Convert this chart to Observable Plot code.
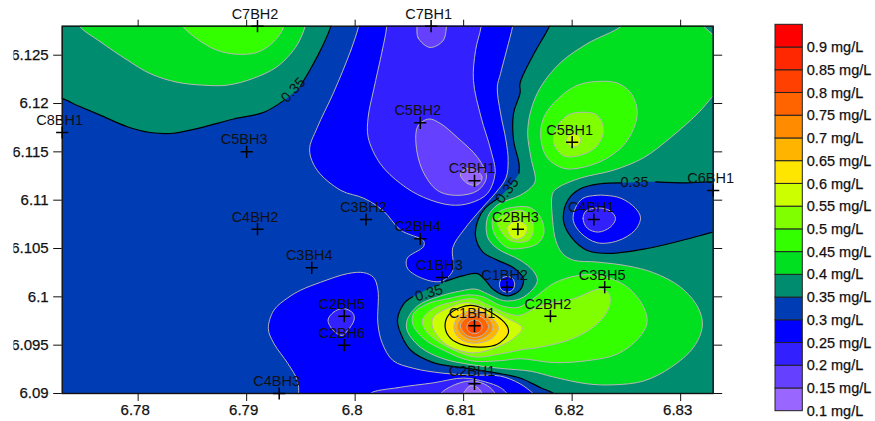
<!DOCTYPE html>
<html>
<head>
<meta charset="utf-8">
<script src="https://cdn.jsdelivr.net/npm/d3@7"></script>
<script src="https://cdn.jsdelivr.net/npm/@observablehq/plot@0.6"></script>
<style>
html,body{margin:0;padding:0;background:#fff}
#page{position:relative;width:875px;height:421px;overflow:hidden}
#page svg{position:absolute;left:0;top:0}
#page g[aria-label$="tick label"] text{stroke:#111;stroke-width:.25px}
</style>
</head>
<body>
<div id="page"></div>
<script>
// Legend classes (lower bound of each class, mg/L) and their colours
const levels = [0.1,0.15,0.2,0.25,0.3,0.35,0.4,0.45,0.5,0.55,0.6,0.65,0.7,0.75,0.8,0.85,0.9];
const levelColors = ["#9966ff","#6640ff","#3320ff","#0000ff","#003cb4","#008c6e","#00e020","#33ff00","#80ff00","#ccff00","#ffe600","#ffb400","#ff8c00","#ff6400","#ff4000","#ff2800","#ff0000"];
const xTicks = [6.78,6.79,6.8,6.81,6.82,6.83];
const yTicks = [6.09,6.095,6.1,6.105,6.11,6.115,6.12,6.125];

// Boreholes
const stationNames = ["C7BH2","C7BH1","C8BH1","C5BH3","C5BH2","C3BH1","C5BH1","C6BH1","C4BH1","C2BH3","C4BH2","C3BH2","C2BH4","C3BH4","C1BH3","C1BH2","C3BH5","C2BH2","C2BH5","C2BH6","C1BH1","C2BH1","C4BH3"];
const stationX = [6.791,6.807,6.773,6.79,6.806,6.811,6.82,6.833,6.822,6.815,6.791,6.801,6.806,6.796,6.808,6.814,6.823,6.818,6.799,6.799,6.811,6.811,6.793];
const stationY = [6.128,6.128,6.117,6.115,6.118,6.112,6.116,6.111,6.108,6.107,6.107,6.108,6.106,6.103,6.102,6.101,6.101,6.098,6.098,6.095,6.097,6.091,6.09];

// Contour outlines, as x,y (longitude, latitude) pairs; null,null = gap for a label
const topLeft35 = [6.7719,6.1206,6.7730,6.1205,6.7744,6.1198,6.7765,6.1188,6.7790,6.1176,6.7811,6.1170,6.7830,6.1169,6.7854,6.1174,6.7888,6.1184,6.7916,6.1191,6.7934,6.1203,null,null,6.7950,6.1219,6.7959,6.1236,6.7968,6.1255,6.7977,6.1278,6.7980,6.1296,6.7719,6.1296];
const topLeft40 = [6.7746,6.1280,6.7765,6.1264,6.7790,6.1245,6.7811,6.1231,6.7836,6.1222,6.7860,6.1219,6.7882,6.1219,6.7906,6.1226,6.7928,6.1238,6.7943,6.1255,6.7950,6.1268,6.7954,6.1280,6.7957,6.1291,6.7742,6.1291];
const topLeft45 = [6.7841,6.1280,6.7858,6.1264,6.7873,6.1255,6.7891,6.1251,6.7910,6.1253,6.7925,6.1264,6.7934,6.1279,6.7935,6.1291,6.7837,6.1291];
const middle30 = [6.8003,6.1279,6.7996,6.1255,6.7980,6.1211,6.7965,6.1175,6.7958,6.1152,6.7965,6.1131,6.7987,6.1110,6.8008,6.1102,6.8026,6.1089,6.8042,6.1069,6.8063,6.1058,6.8063,6.1052,6.8048,6.1040,6.8048,6.1030,6.8060,6.1020,6.8079,6.1016,6.8090,6.1027,6.8090,6.1051,6.8100,6.1069,6.8117,6.1092,6.8129,6.1107,6.8139,6.1123,6.8141,6.1141,6.8139,6.1162,6.8134,6.1190,6.8131,6.1217,6.8134,6.1231,6.8145,6.1279,6.8147,6.1291,6.8005,6.1291];
const bottom30 = [6.7948,6.08875,6.7948,6.0900,6.7947,6.0913,6.7938,6.0931,6.7925,6.0952,6.7920,6.0967,6.7925,6.0986,6.7938,6.0999,6.7950,6.1007,6.7968,6.1015,6.7993,6.1024,6.8008,6.1025,6.8017,6.1020,6.8021,6.1007,6.8021,6.0972,6.8025,6.0952,6.8035,6.0934,6.8054,6.0926,6.8081,6.0921,6.8106,6.0919,6.8134,6.0918,6.8152,6.0910,6.8164,6.0900,6.8172,6.0890];
const bottom25 = [6.8014,6.0900,6.8039,6.0906,6.8072,6.0911,6.8100,6.0916,6.8120,6.0912,6.8134,6.0906,6.8140,6.0900,6.8145,6.0891,6.8010,6.0891];
const bottom20 = [6.8079,6.0900,6.8094,6.0910,6.8109,6.0913,6.8122,6.0908,6.8129,6.0900,6.8132,6.0890,6.8076,6.0890];
const bottom15 = [6.8100,6.0900,6.8106,6.0908,6.8113,6.0906,6.8117,6.0900,6.8119,6.0890,6.8098,6.0890];
const middle25 = [6.8029,6.1279,6.8025,6.1255,6.8017,6.1214,6.8012,6.1186,6.8012,6.1165,6.8023,6.1138,6.8042,6.1117,6.8063,6.1103,6.8088,6.1095,6.8106,6.1097,6.8122,6.1107,6.8129,6.1128,6.8125,6.1152,6.8116,6.1186,6.8109,6.1224,6.8111,6.1255,6.8116,6.1279,6.8117,6.1291,6.8029,6.1291];
const c7bh1Lobe20 = [6.8057,6.1280,6.8058,6.1268,6.8069,6.1258,6.8081,6.1265,6.8084,6.1278,6.8084,6.1288,6.8057,6.1288];
const c5bh2Lobe20 = [6.8068,6.1184,6.8058,6.1177,6.8056,6.1159,6.8062,6.1131,6.8076,6.1110,6.8094,6.1105,6.8113,6.1110,6.8121,6.1124,6.8113,6.1144,6.8094,6.1165,6.8079,6.1179];
const c3bh1Lobe15 = [6.8097,6.1126,6.8100,6.1131,6.8108,6.1133,6.8117,6.1124,6.8113,6.1116,6.8104,6.1117];
const c2bh5Lobe25 = [6.7975,6.0976,6.7980,6.0984,6.7989,6.0988,6.7998,6.0983,6.7999,6.0976,6.7993,6.0965,6.7988,6.0960,6.7980,6.0965];
const c1bh2Pocket30 = [6.8133,6.1013,6.8135,6.1019,6.8140,6.1021,6.8145,6.1019,6.8147,6.1013,6.8145,6.1007,6.8140,6.1005,6.8135,6.1007];
const right35 = [6.8179,6.1280,6.8164,6.1250,6.8152,6.1221,6.8152,6.1211,6.8146,6.1190,6.8146,6.1162,6.8151,6.1138,6.8151,6.1128,null,null,6.8132,6.1102,6.8120,6.1092,6.8113,6.1079,6.8111,6.1062,6.8118,6.1046,6.8131,6.1038,6.8146,6.1030,6.8155,6.1019,6.8152,6.1007,6.8140,6.1001,6.8128,6.1007,6.8120,6.1017,6.8113,6.1024,6.8100,6.1022,6.8083,6.1016,null,null,6.8053,6.1000,6.8045,6.0993,6.8039,6.0976,6.8042,6.0962,6.8051,6.0945,6.8072,6.0932,6.8104,6.0926,6.8131,6.0921,6.8152,6.0916,6.8171,6.0906,6.8183,6.0900,6.8191,6.0891,6.8341,6.0891,6.8341,6.1291,6.8182,6.1291];
const c4bh1Lobe35 = [6.8341,6.1117,6.8330,6.1119,6.8306,6.1118,6.8277,6.1119,null,null,6.8245,6.1118,6.8226,6.1117,6.8208,6.1112,6.8196,6.1100,6.8192,6.1079,6.8199,6.1062,6.8214,6.1048,6.8235,6.1045,6.8269,6.1050,6.8300,6.1058,6.8330,6.1067,6.8341,6.1070];
const c4bh1Lobe30 = [6.8222,6.1105,6.8210,6.1102,6.8203,6.1092,6.8201,6.1079,6.8208,6.1066,6.8223,6.1056,6.8242,6.1058,6.8258,6.1069,6.8263,6.1082,6.8258,6.1092,6.8245,6.1102,6.8231,6.1105];
const c4bh1Lobe25 = [6.8213,6.1089,6.8210,6.1081,6.8214,6.1071,6.8224,6.1067,6.8235,6.1072,6.8240,6.1081,6.8235,6.1089,6.8224,6.1092];
const right40 = [6.8245,6.1280,6.8214,6.1262,6.8189,6.1242,6.8171,6.1217,6.8162,6.1193,6.8159,6.1169,6.8162,6.1144,6.8166,6.1120,6.8162,6.1113,6.8152,6.1105,6.8131,6.1095,6.8122,6.1082,6.8122,6.1062,6.8131,6.1050,6.8152,6.1038,6.8164,6.1027,6.8168,6.1017,6.8163,6.1007,6.8152,6.0998,6.8137,6.0996,6.8122,6.1003,6.8111,6.1008,6.8097,6.1006,6.8079,6.1001,6.8058,6.0991,6.8048,6.0976,6.8048,6.0965,6.8060,6.0948,6.8081,6.0936,6.8106,6.0930,6.8134,6.0926,6.8162,6.0923,6.8183,6.0917,6.8214,6.0910,6.8238,6.0909,6.8266,6.0913,6.8291,6.0927,6.8312,6.0948,6.8320,6.0970,6.8316,6.0989,6.8300,6.1010,6.8275,6.1025,6.8251,6.1032,6.8223,6.1036,6.8201,6.1038,6.8191,6.1045,6.8185,6.1058,6.8182,6.1079,6.8182,6.1107,6.8187,6.1113,6.8208,6.1123,6.8238,6.1131,6.8266,6.1144,6.8291,6.1165,6.8316,6.1190,6.8330,6.1208,6.8341,6.1221,6.8351,6.1245,6.8341,6.1258,6.8330,6.1271,6.8321,6.1280,6.8314,6.1288,6.8249,6.1288];
const c5bh1Lobe45 = [6.8226,6.1223,6.8205,6.1219,6.8187,6.1205,6.8174,6.1186,6.8171,6.1165,6.8177,6.1144,6.8192,6.1133,6.8210,6.1134,6.8233,6.1144,6.8251,6.1162,6.8260,6.1190,6.8254,6.1211,6.8242,6.1221];
const c5bh1Lobe50 = [6.8210,6.1191,6.8196,6.1188,6.8185,6.1174,6.8183,6.1159,6.8192,6.1146,6.8206,6.1146,6.8222,6.1155,6.8229,6.1172,6.8223,6.1188];
const c5bh1Lobe55 = [6.8195,6.1162,6.8197,6.1167,6.8201,6.1169,6.8206,6.1167,6.8208,6.1162,6.8206,6.1157,6.8201,6.1155,6.8197,6.1157];
const c2bh3Lobe45 = [6.8127,6.1082,6.8128,6.1066,6.8140,6.1051,6.8152,6.1050,6.8168,6.1055,6.8174,6.1066,6.8171,6.1082,6.8162,6.1092,6.8148,6.1093,6.8134,6.1089];
const c2bh3Lobe50 = [6.8131,6.1079,6.8134,6.1069,6.8143,6.1058,6.8159,6.1058,6.8164,6.1066,6.8163,6.1079,6.8155,6.1089,6.8143,6.1088];
const c2bh3Lobe55 = [6.8140,6.1072,6.8150,6.1079,6.8159,6.1072,6.8155,6.1062,6.8146,6.1060];
const c1bh1Lobe45 = [6.8053,6.0972,6.8054,6.0983,6.8067,6.0993,6.8085,6.0998,6.8104,6.1002,6.8118,6.1000,6.8134,6.0991,6.8150,6.0989,6.8164,6.0998,6.8183,6.1014,6.8205,6.1022,6.8226,6.1022,6.8251,6.1010,6.8266,6.0989,6.8269,6.0973,6.8261,6.0957,6.8242,6.0941,6.8214,6.0934,6.8183,6.0932,6.8152,6.0936,6.8134,6.0934,6.8106,6.0934,6.8081,6.0945,6.8063,6.0957];
const c1bh1Lobe50 = [6.8062,6.0976,6.8072,6.0988,6.8091,6.0995,6.8109,6.0998,6.8122,6.0992,6.8140,6.0983,6.8152,6.0981,6.8171,6.0991,6.8201,6.0998,6.8226,6.1008,6.8234,6.1003,6.8234,6.0989,6.8223,6.0972,6.8201,6.0957,6.8171,6.0948,6.8152,6.0945,6.8134,6.0941,6.8109,6.0938,6.8079,6.0952,6.8065,6.0965];
const c1bh1Lobe55 = [6.8071,6.0970,6.8072,6.0979,6.8085,6.0988,6.8102,6.0994,6.8122,6.0988,6.8140,6.0978,6.8154,6.0968,6.8146,6.0957,6.8131,6.0948,6.8109,6.0942,6.8088,6.0948,6.8077,6.0958];
const c1bh1Lobe60 = [6.8083,6.0968,6.8086,6.0981,6.8097,6.0989,6.8109,6.0991,6.8125,6.0984,6.8140,6.0970,6.8141,6.0962,6.8131,6.0951,6.8116,6.0948,6.8100,6.0950,6.8088,6.0957];
const c1bh1Lobe65 = [6.8091,6.0968,6.8096,6.0981,6.8109,6.0986,6.8123,6.0981,6.8132,6.0968,6.8126,6.0957,6.8110,6.0952,6.8096,6.0957];
const c1bh1Lobe70 = [6.8094,6.0969,6.8100,6.0980,6.8110,6.0984,6.8121,6.0980,6.8127,6.0968,6.8121,6.0959,6.8110,6.0955,6.8100,6.0959];
const c1bh1Lobe75 = [6.8097,6.0970,6.8102,6.0978,6.8110,6.0981,6.8118,6.0978,6.8123,6.0969,6.8118,6.0961,6.8110,6.0958,6.8102,6.0961];
const c1bh1Lobe80 = [6.8103,6.0969,6.8105,6.0974,6.8110,6.0976,6.8115,6.0974,6.8117,6.0969,6.8115,6.0964,6.8110,6.0962,6.8105,6.0964];

// Paint order: [contour value, class fill, outline]
const contours = [
  [0.35,0.35,topLeft35],[0.4,0.4,topLeft40],[0.45,0.45,topLeft45],
  [0.3,0.25,middle30],[0.3,0.25,bottom30],
  [0.25,0.2,middle25],[0.25,0.2,bottom25],[0.2,0.15,bottom20],[0.15,0.1,bottom15],
  [0.2,0.15,c7bh1Lobe20],[0.2,0.15,c5bh2Lobe20],[0.15,0.1,c3bh1Lobe15],[0.25,0.2,c2bh5Lobe25],
  [0.35,0.35,right35],[0.3,0.25,c1bh2Pocket30],
  [0.35,0.3,c4bh1Lobe35],[0.3,0.25,c4bh1Lobe30],[0.25,0.2,c4bh1Lobe25],
  [0.4,0.4,right40],[0.45,0.45,c5bh1Lobe45],[0.5,0.5,c5bh1Lobe50],[0.55,0.55,c5bh1Lobe55],
  [0.45,0.45,c2bh3Lobe45],[0.5,0.5,c2bh3Lobe50],[0.55,0.55,c2bh3Lobe55],
  [0.45,0.45,c1bh1Lobe45],[0.5,0.5,c1bh1Lobe50],[0.55,0.55,c1bh1Lobe55],[0.6,0.6,c1bh1Lobe60],
  [0.65,0.65,c1bh1Lobe65],[0.7,0.7,c1bh1Lobe70],[0.75,0.75,c1bh1Lobe75],[0.8,0.8,c1bh1Lobe80]
];

// Inline labels on the 0.35 contour
const inlineText = ["0.35","0.35","0.35","0.35"];
const inlineX = [6.7943,6.8140,6.82575,6.8068];
const inlineY = [6.1214,6.1110,6.1118,6.1004];
const inlineAngle = [-47,-52,0,-17];

const font = "'Liberation Sans', Arial, sans-serif";
const colorScale = {type:"ordinal", domain:levels, range:levelColors};

function toPoints(flat){
  const out = [];
  for (let i = 0; i < flat.length; i += 2) out.push({x: flat[i] ?? NaN, y: flat[i+1] ?? NaN});
  return out;
}
function contourMarks([value, fillLevel, flat]){
  const all = toPoints(flat);
  const solid = all.filter(d => !isNaN(d.x));
  const edge = (value === 0.35 || value === 0.6) ? "#000" : "#b6b6b6";
  const width = (value === 0.35 || value === 0.6) ? 1.2 : 1;
  const marks = [Plot.line(solid, {x:"x", y:"y", fill:() => fillLevel, stroke:"none", curve:"catmull-rom-closed", clip:true})];
  const firstGap = all.findIndex(d => isNaN(d.x));
  if (firstGap < 0) {
    marks.push(Plot.line(solid, {x:"x", y:"y", stroke:edge, strokeWidth:width, curve:"catmull-rom-closed", clip:true}));
  } else {
    const ring = all.slice(firstGap + 1).concat(all.slice(0, firstGap));
    marks.push(Plot.line(ring, {x:"x", y:"y", stroke:edge, strokeWidth:width, curve:"catmull-rom", clip:true}));
  }
  return marks;
}

const stations = stationNames.map((name,i) => ({name, x:stationX[i], y:stationY[i]}));
const inline = inlineText.map((t,i) => ({t, x:inlineX[i], y:inlineY[i], a:inlineAngle[i]}));

const page = document.getElementById("page");

const mapPlot = Plot.plot({
  width:875, height:421,
  marginLeft:61.7, marginRight:162.3, marginTop:25.7, marginBottom:28,
  style:{fontFamily:font, fontSize:"14.5px", color:"#111", background:"transparent", clipPath:"inset(0 0 0 13.5px)"},
  x:{domain:[6.773,6.833], label:null},
  y:{domain:[6.09,6.128], label:null},
  color:colorScale,
  marks:[
    Plot.frame({fill:levelColors[levels.indexOf(0.3)], stroke:"none"}),
    ...contours.flatMap(contourMarks),
    Plot.frame({stroke:"#111", strokeWidth:1.4}),
    Plot.axisX(xTicks,{anchor:"bottom", tickSize:8, fill:"none", label:null, stroke:"#111"}),
    Plot.axisX(xTicks,{anchor:"bottom", tickSize:0, tickPadding:11, dx:-3, fontSize:15, tickFormat:d => String(d), label:null}),
    Plot.axisX(xTicks,{anchor:"top", tickSize:7, fill:"none", label:null, stroke:"#111"}),
    Plot.axisY(yTicks,{anchor:"left", tickSize:8.5, tickPadding:5, fontSize:15, tickFormat:d => String(d), label:null, stroke:"#111"}),
    Plot.axisY(yTicks,{anchor:"right", tickSize:8.5, fill:"none", label:null, stroke:"#111"}),
    Plot.dot(stations,{x:"x", y:"y", symbol:"plus", r:4, stroke:"#000", strokeWidth:1.5}),
    Plot.text(stations,{x:"x", y:"y", text:"name", dx:-2.5, dy:-12, fill:"#111", fontSize:14.5}),
    Plot.text(inline,{x:"x", y:"y", text:"t", rotate:"a", fill:"#111", fontSize:14.5})
  ]
});
page.appendChild(mapPlot);

const legendPlot = Plot.plot({
  width:875, height:421,
  marginLeft:775, marginRight:72.7, marginTop:24.3, marginBottom:10.3,
  style:{fontFamily:font, fontSize:"14.5px", color:"#111", background:"transparent"},
  x:{domain:[0,1], axis:null},
  y:{domain:[0.1,0.95], label:null},
  color:colorScale,
  marks:[
    Plot.rect(levels,{x1:0, x2:1, y1:d => d, y2:d => d + 0.05, fill:d => d, stroke:"#222", strokeWidth:1}),
    Plot.axisY(levels,{anchor:"right", tickSize:0, tickPadding:4, tickFormat:d => d + " mg/L", label:null})
  ]
});
page.appendChild(legendPlot);
</script>
</body>
</html>
